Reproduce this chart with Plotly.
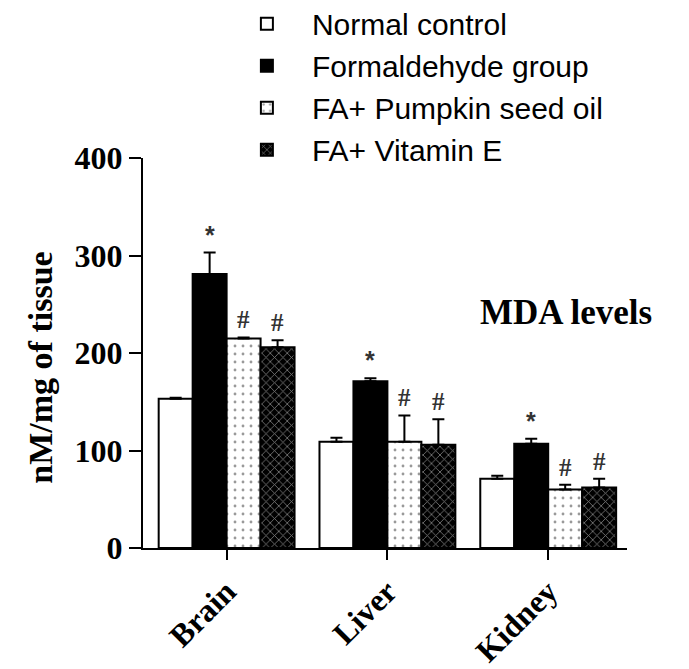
import plotly.graph_objects as go

categories = ["Brain", "Liver", "Kidney"]
groups = ["Normal control", "Formaldehyde group", "FA+ Pumpkin seed oil", "FA+ Vitamin E"]
normal = [153, 109, 71]
normal_err = [1, 4, 3]
formaldehyde = [281, 171, 107]
formaldehyde_err = [22, 3, 5]
pumpkin = [215, 109, 60]
pumpkin_err = [1, 27, 5]
vitamin_e = [206, 106, 62]
vitamin_e_err = [7, 26, 9]
sig_labels = ["", "*", "#", "#"]
y_ticks = [0, 100, 200, 300, 400]

values = [normal, formaldehyde, pumpkin, vitamin_e]
errors = [normal_err, formaldehyde_err, pumpkin_err, vitamin_e_err]

patterns = [
    dict(shape="", bgcolor="white"),
    dict(shape="", bgcolor="black"),
    dict(shape=".", bgcolor="white", fgcolor="#333333", size=8, solidity=0.1),
    dict(shape="x", bgcolor="black", fgcolor="white", size=6, solidity=0.25),
]
colors = ["white", "black", "white", "black"]

SERIF = "Liberation Serif"
SANS = "Liberation Sans"

fig = go.Figure()
for name, vals, errs, pat, col in zip(groups, values, errors, patterns, colors):
    fig.add_trace(go.Bar(
        name=name, x=categories, y=vals,
        marker=dict(color=col, line=dict(color="black", width=2), pattern=pat),
        error_y=dict(type="data", symmetric=False, array=errs, arrayminus=[0] * len(errs),
                     color="black", thickness=2, width=6),
    ))

bargap = 0.155
n = len(groups)
bw = (1 - bargap) / n
annotations = []
for gi, (lab, vals, errs) in enumerate(zip(sig_labels, values, errors)):
    if not lab:
        continue
    off = -(1 - bargap) / 2 + bw * (gi + 0.5)
    for ci, (v, e) in enumerate(zip(vals, errs)):
        annotations.append(dict(
            x=ci + off, y=v + e, xref="x", yref="y", text=lab, showarrow=False,
            yanchor="bottom", yshift=2,
            font=dict(family=SERIF if lab == "#" else SANS, size=25, color="#333333", weight="bold"),
        ))

annotations.append(dict(
    x=0.874, y=0.605, xref="paper", yref="paper", text="MDA levels", showarrow=False,
    xanchor="center", yanchor="middle",
    font=dict(family=SERIF, size=35, color="black", weight="bold"),
))

# y-axis title
annotations.append(dict(
    x=-0.211, y=0.462, xref="paper", yref="paper", text="nM/mg of tissue", showarrow=False,
    xanchor="center", yanchor="middle", textangle=-90,
    font=dict(family=SERIF, size=34, color="black", weight="bold"),
))

# the page body has an 8px margin, so the figure margins are reduced accordingly
fig.update_layout(
    width=689, height=669,
    margin=dict(l=135, r=70, t=150, b=129, autoexpand=False),
    paper_bgcolor="white", plot_bgcolor="white",
    barmode="group", bargap=bargap, bargroupgap=0,
    showlegend=True,
    legend=dict(
        x=0.163, y=1.411, xanchor="left", yanchor="top",
        font=dict(family=SANS, size=30, color="black"),
        bgcolor="rgba(0,0,0,0)", itemwidth=80, tracegroupgap=0,
    ),
    annotations=annotations,
    xaxis=dict(
        range=[-0.52, 2.49], showline=True, linecolor="black", linewidth=2,
        ticks="outside", ticklen=10, tickwidth=2, tickcolor="black",
        tickangle=-45, automargin=False,
        tickfont=dict(family=SERIF, size=32, color="black", weight="bold"),
        showgrid=False, zeroline=False,
    ),
    yaxis=dict(
        range=[0, 400], tickvals=y_ticks, showline=True, linecolor="black", linewidth=2,
        ticks="outside", ticklen=12, tickwidth=2, tickcolor="black", automargin=False,
        tickfont=dict(family=SERIF, size=32, color="black", weight="bold"),
        showgrid=False, zeroline=False,
    ),
)

fig.write_html("out.html")
